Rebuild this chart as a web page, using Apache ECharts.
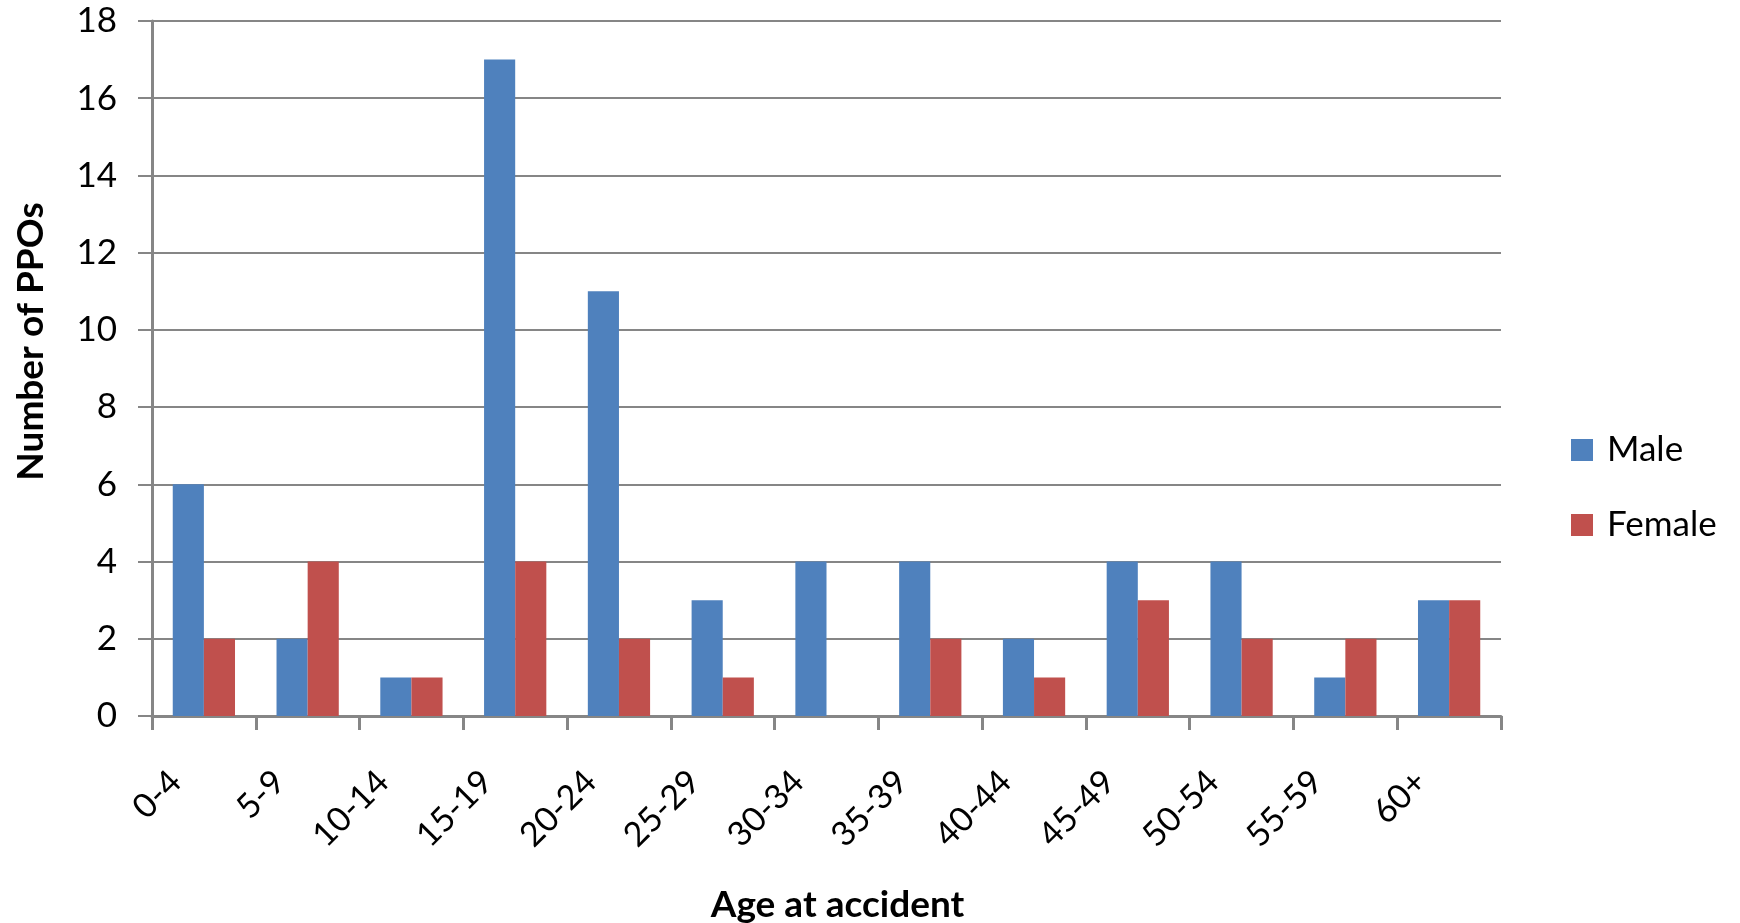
<!DOCTYPE html>
<html>
<head>
<meta charset="utf-8">
<script src="https://cdn.jsdelivr.net/npm/echarts@6/dist/echarts.min.js"></script>
<style>
  html, body { margin: 0; padding: 0; background: #ffffff; }
  #chart { width: 1740px; height: 923px; }
</style>
</head>
<body>
<div id="chart"></div>
<script>
// Age bands at time of accident
const ageGroups = ['0-4', '5-9', '10-14', '15-19', '20-24', '25-29', '30-34',
                   '35-39', '40-44', '45-49', '50-54', '55-59', '60+'];
// Number of PPOs per age band
const maleCounts   = [6, 2, 1, 17, 11, 3, 4, 4, 2, 4, 4, 1, 3];
const femaleCounts = [2, 4, 1, 4, 2, 1, 0, 2, 1, 3, 2, 2, 3];
// Value axis range
const yMin = 0, yMax = 18, yStep = 2;

const FONT = 'Lato, "Open Sans", "Liberation Sans", sans-serif';
const GRID_GRAY = '#868686';

const chart = echarts.init(document.getElementById('chart'), null, { renderer: 'canvas' });

chart.setOption({
  animation: false,
  backgroundColor: '#ffffff',
  grid: {
    left: 152, top: 21, right: 239, bottom: 207,
    containLabel: false,
    outerBoundsMode: 'none'
  },
  legend: {
    orient: 'vertical',
    left: 1571,
    top: 432,
    padding: 0,
    itemWidth: 22,
    itemHeight: 22,
    itemGap: 39,
    icon: 'rect',
    textStyle: {
      fontFamily: FONT, fontSize: 35, color: '#000000',
      lineHeight: 36, padding: [0, 0, 0, 9]
    },
    data: ['Male', 'Female']
  },
  xAxis: {
    type: 'category',
    data: ageGroups,
    name: 'Age at accident',
    nameLocation: 'middle',
    nameGap: 171,
    nameMoveOverlap: false,
    nameTextStyle: {
      fontFamily: FONT, fontSize: 37, fontWeight: 'bold', color: '#000000',
      padding: [0, 0, 0, 22]
    },
    axisLine: { show: true, lineStyle: { color: GRID_GRAY, width: 3 } },
    axisTick: { show: true, alignWithLabel: false, length: 14, lineStyle: { color: GRID_GRAY, width: 3 } },
    axisLabel: {
      rotate: 45,
      margin: 32,
      padding: [0, 40, 0, 0],
      fontFamily: FONT, fontSize: 34, color: '#000000',
      interval: 0
    },
    splitLine: { show: false }
  },
  yAxis: {
    type: 'value',
    min: yMin,
    max: yMax,
    interval: yStep,
    name: 'Number of PPOs',
    nameLocation: 'middle',
    nameGap: 102,
    nameMoveOverlap: false,
    nameTextStyle: {
      fontFamily: FONT, fontSize: 37, fontWeight: 'bold', color: '#000000',
      padding: [0, 0, 0, 54]
    },
    axisLine: { show: true, lineStyle: { color: GRID_GRAY, width: 3 } },
    axisTick: { show: true, length: 14, lineStyle: { color: GRID_GRAY, width: 2 } },
    axisLabel: { margin: 35, fontFamily: FONT, fontSize: 35, color: '#000000' },
    splitLine: { show: true, lineStyle: { color: GRID_GRAY, width: 2 } }
  },
  series: [
    {
      name: 'Male',
      type: 'bar',
      data: maleCounts,
      barGap: '0%',
      barCategoryGap: '40%',
      itemStyle: { color: '#4F81BD' }
    },
    {
      name: 'Female',
      type: 'bar',
      data: femaleCounts,
      barGap: '0%',
      barCategoryGap: '40%',
      itemStyle: { color: '#C0504D' }
    }
  ]
});
</script>
</body>
</html>
